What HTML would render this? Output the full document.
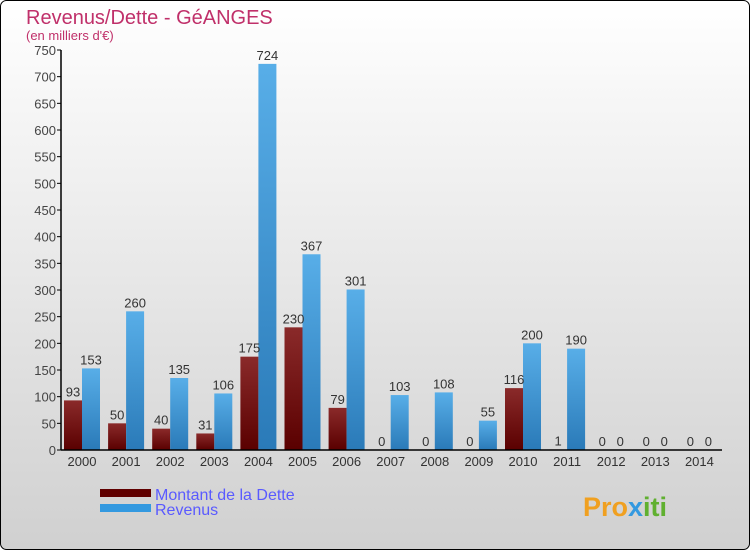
<!DOCTYPE html>
<html><head><meta charset="utf-8"><style>
body{margin:0}
svg text{font-family:"Liberation Sans","DejaVu Sans",sans-serif}
</style></head><body>
<svg width="750" height="550" viewBox="0 0 750 550" xmlns="http://www.w3.org/2000/svg">
<defs>
<linearGradient id="bg" x1="0" y1="0" x2="0" y2="1"><stop offset="0" stop-color="#ffffff"/><stop offset="1" stop-color="#d0d0d0"/></linearGradient>
<linearGradient id="gd" x1="0" y1="0" x2="0" y2="1"><stop offset="0" stop-color="#8a2a2a"/><stop offset="1" stop-color="#5a0000"/></linearGradient>
<linearGradient id="gr" x1="0" y1="0" x2="0" y2="1"><stop offset="0" stop-color="#58aee8"/><stop offset="1" stop-color="#2a7ab8"/></linearGradient>
</defs>
<rect x="0.5" y="0.5" width="749" height="549" rx="6" fill="url(#bg)" stroke="#000"/>
<text x="26" y="24" font-size="20" fill="#c0306a">Revenus/Dette - GéANGES</text>
<text x="26" y="40" font-size="13" fill="#c0306a">(en milliers d'€)</text>
<g id="plot"></g>
<rect x="100" y="489" width="51" height="8" fill="#600000"/>
<text x="155" y="500" font-size="16" fill="#5a5aff">Montant de la Dette</text>
<rect x="100" y="504" width="51" height="8" fill="#3399e0"/>
<text x="155" y="515" font-size="16" fill="#5a5aff">Revenus</text>
<text x="583" y="516" font-size="27" font-weight="bold" fill="#f0a020">Pro<tspan fill="#3399e0">x</tspan><tspan fill="#60b030">iti</tspan></text>
</svg>
<script>
const years=["2000","2001","2002","2003","2004","2005","2006","2007","2008","2009","2010","2011","2012","2013","2014"];
const dette=[93,50,40,31,175,230,79,0,0,0,116,1,0,0,0];
const revenus=[153,260,135,106,724,367,301,103,108,55,200,190,0,0,0];
const yTicks=[0,50,100,150,200,250,300,350,400,450,500,550,600,650,700,750];
const NS="http://www.w3.org/2000/svg";
const g=document.getElementById('plot');
const y=v=>450-v*400/750;
const xc=i=>82+i*44.1;
function el(t,a,txt){const e=document.createElementNS(NS,t);for(const k in a)e.setAttribute(k,a[k]);if(txt!==undefined)e.textContent=txt;g.appendChild(e);return e;}
yTicks.forEach(v=>{
 const l=el('line',{x1:57,x2:61,y1:y(v),y2:y(v),stroke:'#000'});
 
 
 const t=el('text',{x:56,y:y(v)+5,'font-size':13,fill:'#444','text-anchor':'end'},v);
 
 
});
years.forEach((yr,i)=>{
 const c=xc(i);
 const b1=el('rect',{x:c-18,y:y(dette[i]),width:18,height:450-y(dette[i]),fill:'url(#gd)'});
 
 
 const b2=el('rect',{x:c,y:y(revenus[i]),width:18,height:450-y(revenus[i]),fill:'url(#gr)'});
 
 
 const t1=el('text',{x:c-9,y:y(dette[i])-4,'font-size':13,fill:'#333','text-anchor':'middle'},dette[i]);
 
 
 const t2=el('text',{x:c+9,y:y(revenus[i])-4,'font-size':13,fill:'#333','text-anchor':'middle'},revenus[i]);
 
 
 const xl=el('text',{x:c,y:466,'font-size':13,fill:'#333','text-anchor':'middle'},yr);
 
 
});
const ya=el('line',{x1:61,x2:61,y1:50,y2:450,stroke:'#000','stroke-width':1.5});


const xa=el('line',{x1:61,x2:722,y1:450,y2:450,stroke:'#000','stroke-width':1.5});


</script>
</body></html>
